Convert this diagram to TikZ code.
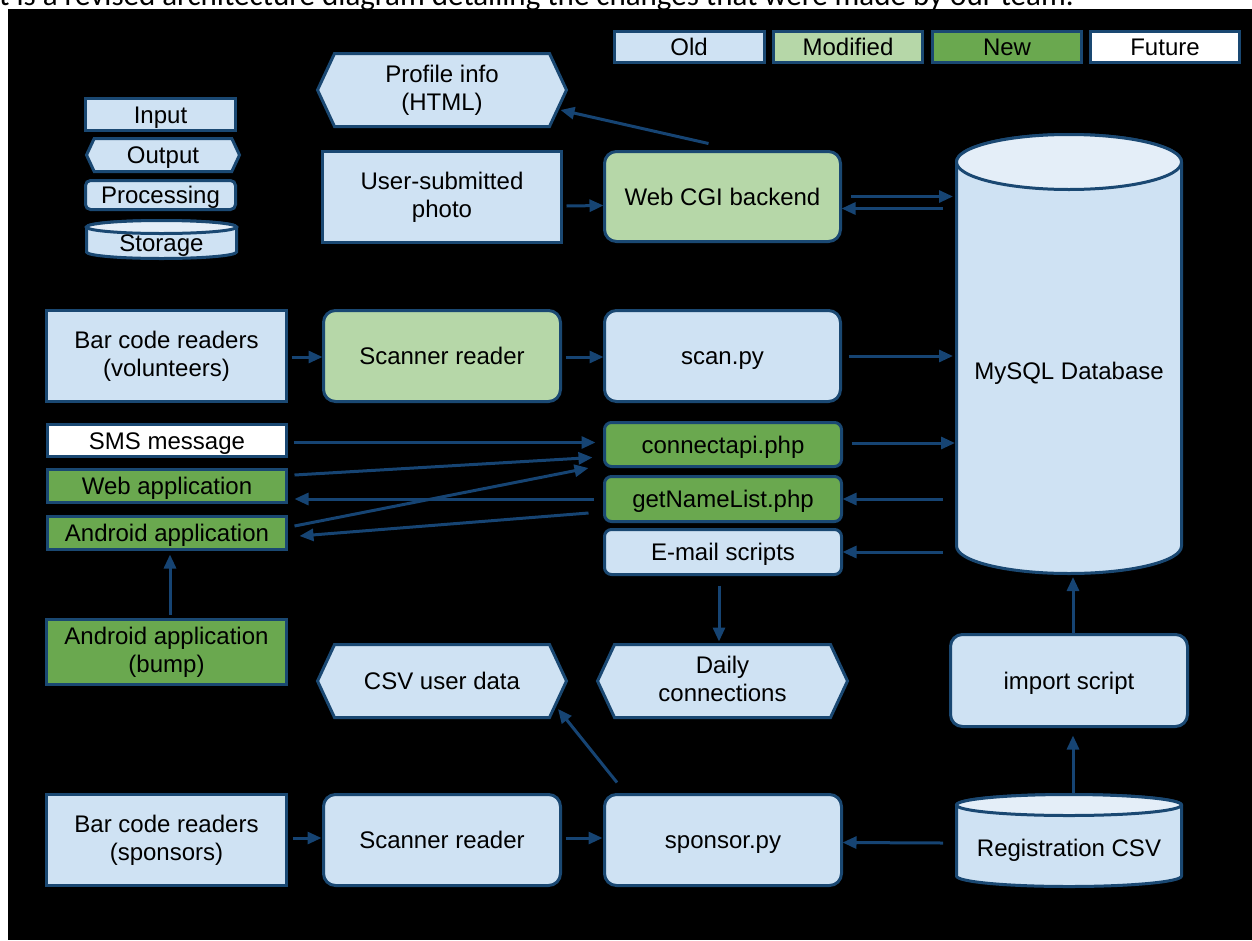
\documentclass[tikz,border=0pt]{standalone}
\usepackage{fontspec}
\setmainfont{Liberation Sans}
\newfontfamily\capfont{Carlito}
\usetikzlibrary{arrows.meta,shapes.symbols,calc}
\definecolor{oldc}{HTML}{CFE2F3}
\definecolor{modc}{HTML}{B6D7A8}
\definecolor{newc}{HTML}{6AA84F}
\definecolor{topc}{HTML}{E4EEF8}
\definecolor{bordc}{HTML}{1A4872}
\definecolor{arrc}{HTML}{164473}
\newcommand{\mystrut}{\rule[-5pt]{0pt}{27.2pt}}
\newcommand{\dfont}{\fontsize{24}{28}\selectfont}
\tikzset{
  txt/.style={inner sep=0pt, outer sep=0pt, align=center, font=\dfont, text=black,
    execute at begin node=\mystrut, execute at end node=\mystrut},
  bx/.style={txt, draw=bordc, line width=3pt},
  inbox/.style={bx, rectangle},
  prbox/.style={bx, rounded corners=12pt},
  prsbox/.style={bx, rounded corners=7pt},
  hexbox/.style={bx, signal, signal to=west and east, signal pointer angle=130},
  old/.style={fill=oldc}, mod/.style={fill=modc}, new/.style={fill=newc}, fut/.style={fill=white},
  cylbody/.style={draw=bordc, line width=3pt, fill=oldc},
  cyltop/.style={draw=bordc, line width=3pt, fill=topc},
  arr/.style={draw=arrc, line width=3pt, -{Triangle[length=14pt,width=12pt]}}
}
\begin{document}
\begin{tikzpicture}[x=1pt,y=-1pt]
\useasboundingbox (0,0) rectangle (1252,940);
\fill[white] (0,0) rectangle (1252,940);
\begin{scope}
\clip (0,0) rectangle (1252,9);
\node[anchor=base west, inner sep=0pt, font=\capfont\fontsize{31}{33}\selectfont] (cap) at (-1,5)
  {t is a revised architecture diagram detailing the changes that were made by our team.};
\end{scope}
\fill[black] (8,9) rectangle (1252,940);

% legend (colours)
\node[inbox,old,minimum width=150pt,minimum height=31pt] (lold) at (689,47) {Old};
\node[inbox,mod,minimum width=149pt,minimum height=31pt] (lmod) at (848,47) {Modified};
\node[inbox,new,minimum width=149pt,minimum height=31pt] (lnew) at (1007,47) {New};
\node[inbox,fut,minimum width=149pt,minimum height=31pt] (lfut) at (1165,47) {Future};

% legend (shapes)
\node[inbox,old,minimum width=150pt,minimum height=32pt] (lin) at (160.5,114.5) {Input};
\node[hexbox,old,minimum width=153pt,minimum height=33pt] (lout) at (163,155) {Output};
\node[bx,old,rounded corners=5pt,minimum width=150pt,minimum height=29pt] (lproc) at (160.5,195) {Processing};
\path[cylbody] (86.5,227) -- (86.5,252) arc[start angle=180,end angle=360,x radius=75pt,y radius=6.5pt]
  -- (236.5,227) arc[start angle=0,end angle=180,x radius=75pt,y radius=6.5pt] -- cycle;
\draw[cyltop] (161.5,227) ellipse[x radius=75pt,y radius=6.5pt];
\node[txt] (lstor) at (161.5,242.5) {Storage};

% MySQL cylinder
\path[cylbody] (956.5,162) -- (956.5,546) arc[start angle=180,end angle=360,x radius=112.5pt,y radius=27.5pt]
  -- (1181.5,162) arc[start angle=0,end angle=180,x radius=112.5pt,y radius=27.5pt] -- cycle;
\draw[cyltop] (1069,162) ellipse[x radius=112.5pt,y radius=27.5pt];
\node[inner sep=0pt,outer sep=0pt,minimum width=228pt,minimum height=442pt] (mysql) at (1069,354) {};
\node[txt] (mysqltxt) at (1069,371) {MySQL Database};

% Registration CSV cylinder
\path[cylbody] (956.5,805) -- (956.5,876) arc[start angle=180,end angle=360,x radius=112.5pt,y radius=10.5pt]
  -- (1181.5,805) arc[start angle=0,end angle=180,x radius=112.5pt,y radius=10.5pt] -- cycle;
\draw[cyltop] (1069,805) ellipse[x radius=112.5pt,y radius=10.5pt];
\node[inner sep=0pt,outer sep=0pt,minimum width=228pt,minimum height=95pt] (reg) at (1069,840.5) {};
\node[txt] (regtxt) at (1069,848) {Registration CSV};

% main nodes
\node[hexbox,old,minimum width=249pt,minimum height=73pt] (prof) at (442,90) {Profile info\\(HTML)};
\node[inbox,old,minimum width=239pt,minimum height=91pt] (photo) at (442,197) {User-submitted\\photo};
\node[prbox,mod,minimum width=236pt,minimum height=90pt] (cgi) at (722.5,196.5) {Web CGI backend};
\node[inbox,old,minimum width=240pt,minimum height=91pt] (bcv) at (166.5,356) {Bar code readers\\(volunteers)};
\node[prbox,mod,minimum width=237pt,minimum height=91pt] (scanv) at (442,356) {Scanner reader};
\node[prbox,old,minimum width=236pt,minimum height=91pt] (scan) at (722.5,356) {scan.py};
\node[inbox,fut,minimum width=239pt,minimum height=32pt] (sms) at (167,440.5) {SMS message};
\node[inbox,new,minimum width=239pt,minimum height=33pt] (web) at (167,486) {Web application};
\node[inbox,new,minimum width=239pt,minimum height=33pt] (andr) at (167,533) {Android application};
\node[prsbox,new,minimum width=237pt,minimum height=44pt] (conn) at (723,444.5) {connectapi.php};
\node[prsbox,new,minimum width=237pt,minimum height=45pt] (getn) at (723,499) {getNameList.php};
\node[prsbox,old,minimum width=237pt,minimum height=45pt] (email) at (723,552) {E-mail scripts};
\node[inbox,new,minimum width=240pt,minimum height=65pt] (bump) at (166.5,652) {Android application\\(bump)};
\node[hexbox,old,minimum width=249pt,minimum height=73pt] (csv) at (442,681) {CSV user data};
\node[hexbox,old,minimum width=250pt,minimum height=73pt] (daily) at (722.5,681) {Daily\\connections};
\node[prbox,old,minimum width=237pt,minimum height=92pt] (imp) at (1069,680.5) {import script};
\node[inbox,old,minimum width=240pt,minimum height=91pt] (bcs) at (166.5,840) {Bar code readers\\(sponsors)};
\node[prbox,old,minimum width=237pt,minimum height=91pt] (scans) at (442,840) {Scanner reader};
\node[prbox,old,minimum width=237pt,minimum height=91pt] (spons) at (723,840) {sponsor.py};

% connectors
\draw[arr] ($(cgi.north)+(-14,-8)$) -- ($(prof.east)+(-6,20)$);
\draw[arr] ($(photo.east)+(5,9)$) -- ($(cgi.west)+(-1,9)$);
\draw[arr] ($(cgi.east)+(10,0)$) -- ($(mysql.west |- cgi.east)+(-2,0)$);
\draw[arr] ($(mysql.west |- cgi.east)+(-12,12)$) -- ($(cgi.east)+(1,12)$);
\draw[arr] ($(bcv.east)+(5,1)$) -- ($(scanv.west)+(-1,1)$);
\draw[arr] ($(scanv.east)+(5,1)$) -- ($(scan.west)+(-1,1)$);
\draw[arr] ($(scan.east)+(8,0)$) -- ($(mysql.west |- scan.east)+(-2,0)$);
\draw[arr] ($(sms.east)+(7,2)$) -- ($(conn.west)+(-9,-2)$);
\draw[arr] ($(web.east)+(8,-11)$) -- ($(conn.west)+(-12,13)$);
\draw[arr] ($(andr.east)+(8,-7)$) -- ($(conn.west)+(-16,23.5)$);
\draw[arr] ($(getn.west)+(-11,0)$) -- ($(web.east)+(8,13)$);
\draw[arr] ($(getn.west)+(-16,14)$) -- ($(andr.east)+(13,3)$);
\draw[arr] ($(conn.east)+(10,-1.5)$) -- ($(mysql.west |- conn.east)+(0,-1.5)$);
\draw[arr] ($(mysql.west |- getn.east)+(-12,0)$) -- ($(getn.east)+(1,0)$);
\draw[arr] ($(mysql.west |- email.east)+(-12,0)$) -- ($(email.east)+(1,0)$);
\draw[arr] ($(email.south)+(-4,11)$) -- ($(daily.north)+(-3.5,-3)$);
\draw[arr] ($(bump.north)+(3.5,-5)$) -- ($(andr.south)+(3,5)$);
\draw[arr] ($(imp.north)+(4,-1)$) -- ($(mysql.south)+(4,2)$);
\draw[arr] ($(reg.north)+(4,0)$) -- ($(imp.south)+(4,9)$);
\draw[arr] ($(spons.north)+(-106,-12)$) -- ($(csv.east)+(-8.5,28)$);
\draw[arr] ($(bcs.east)+(6,-2)$) -- ($(scans.west)+(-2,-2)$);
\draw[arr] ($(scans.east)+(5,-2)$) -- ($(spons.west)+(-2,-2)$);
\draw[arr] ($(reg.west)+(-12,2.5)$) -- ($(spons.east)+(1,2.5)$);
\end{tikzpicture}
\end{document}
